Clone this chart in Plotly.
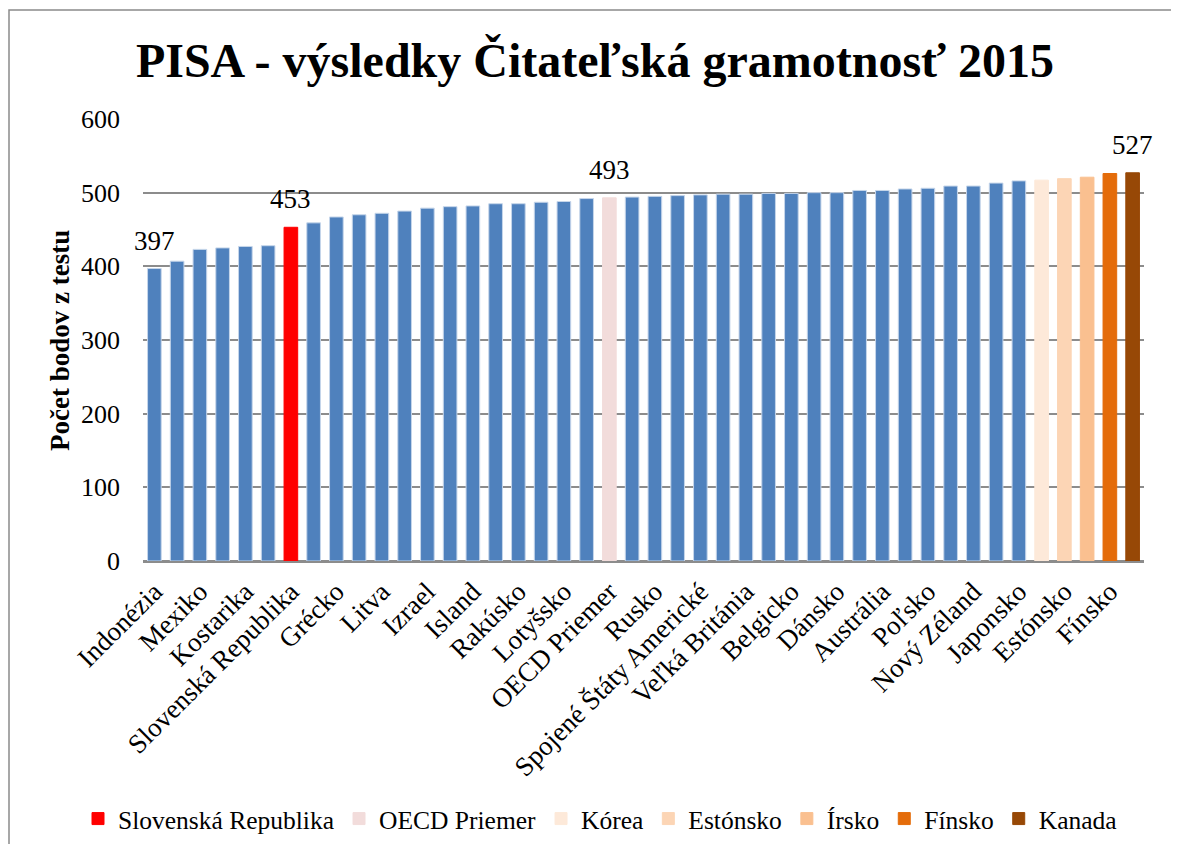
import plotly.graph_objects as go

countries = [
    "Indonézia", "Brazília", "Mexiko", "Kolumbia", "Kostarika", "Turecko",
    "Slovenská Republika", "Čile", "Grécko", "Maďarsko", "Litva", "Argentína",
    "Izrael", "Luxembursko", "Island", "Taliansko", "Rakúsko", "Česko",
    "Lotyšsko", "Švajčiarsko", "OECD Priemer", "Španielsko", "Rusko", "Portugalsko",
    "Spojené Štáty Americké", "Švédsko", "Veľká Británia", "Francúzsko", "Belgicko",
    "Holandsko", "Dánsko", "Slovinsko", "Austrália", "Nemecko", "Poľsko", "Macao",
    "Nový Zéland", "Nórsko", "Japonsko", "Kórea", "Estónsko", "Írsko", "Fínsko", "Kanada",
]
scores = [
    397, 407, 423, 425, 427, 428, 453, 459, 467, 470, 472, 475,
    479, 481, 482, 485, 485, 487, 488, 492, 493, 494, 495, 496,
    497, 498, 498, 499, 499, 500, 500, 503, 503, 505, 506, 509,
    509, 513, 516, 517, 519, 521, 526, 527,
]
highlighted = ["Slovenská Republika", "OECD Priemer", "Kórea", "Estónsko", "Írsko", "Fínsko", "Kanada"]
highlight_colors = ["#FF0000", "#F2DCDB", "#FDE9D9", "#FCD5B5", "#FAC090", "#E46C0A", "#974806"]
labelled = ["Indonézia", "Slovenská Republika", "OECD Priemer", "Kanada"]
tick_labels = countries[::2]

SERIF = "Liberation Serif"
OFF = 8  # browser body margin
W, H = 1179 - 2 * OFF, 852 - 2 * OFF
# plot area in page coordinates: x 143..1144, y 119..561
L = 143 - OFF
T = 119 - OFF
R = W - (1144 - OFF)
B = H - (561 - OFF)

fig = go.Figure()

blue_y = [None if c in highlighted else v for c, v in zip(countries, scores)]
fig.add_trace(go.Bar(
    x=countries, y=blue_y,
    marker=dict(color="#4F81BD", line=dict(color="#c6d6ea", width=1)),
    showlegend=False, name="Krajiny",
))
for name, col in zip(highlighted, highlight_colors):
    v = scores[countries.index(name)]
    fig.add_trace(go.Bar(
        x=[name], y=[v], name=name,
        marker=dict(color=col, line=dict(color=col, width=1)),
    ))

pw, ph = W - L - R, H - T - B

def px(x):
    return (x - OFF - L) / pw

def py(y):
    return (H - B - (y - OFF)) / ph

annotations = [dict(text="<b>Počet bodov z testu</b>", textangle=-90,
                    xref="paper", yref="paper", x=px(60), y=py(341),
                    xanchor="center", yanchor="middle", showarrow=False,
                    font=dict(family=SERIF, size=27, color="black"))]
for name in labelled:
    v = scores[countries.index(name)]
    annotations.append(dict(text=str(v), x=name, y=v, xref="x", yref="y",
                            xanchor="center", yanchor="bottom", yshift=11,
                            showarrow=False,
                            font=dict(family=SERIF, size=27, color="black")))

fig.update_layout(
    width=W, height=H,
    margin=dict(l=L, r=R, t=T, b=B, autoexpand=False),
    barmode="overlay", bargap=0.4,
    plot_bgcolor="white", paper_bgcolor="white",
    title=dict(text="<b>PISA - výsledky Čitateľská gramotnosť 2015</b>",
               x=(595 - OFF) / W, xref="container", xanchor="center",
               y=1 - (60 - OFF) / H, yref="container", yanchor="middle",
               font=dict(family=SERIF, size=48, color="black")),
    font=dict(family=SERIF, size=26, color="black"),
    xaxis=dict(categoryorder="array", categoryarray=countries,
               tickmode="array", tickvals=tick_labels, ticktext=tick_labels,
               tickangle=-45, tickfont=dict(family=SERIF, size=27, color="black"),
               showgrid=False, showline=True, linecolor="#8c8c8c", linewidth=2,
               range=[-0.5, len(countries) - 0.5], ticks="", ticklabelstandoff=2),
    yaxis=dict(range=[0, 600], tickvals=[0, 100, 200, 300, 400, 500, 600],
               showgrid=True, gridcolor="#8c8c8c", gridwidth=2,
               zeroline=True, zerolinecolor="#8c8c8c", zerolinewidth=2,
               tickfont=dict(family=SERIF, size=26, color="black"),
               ticks="", ticklabelstandoff=22),
    legend=dict(orientation="h", x=px(78), xanchor="left", xref="paper",
                y=py(819), yref="paper", yanchor="middle",
                bgcolor="rgba(0,0,0,0)",
                font=dict(family=SERIF, size=25.5, color="black"),
                itemwidth=30, traceorder="normal"),
    showlegend=True,
    annotations=annotations,
    shapes=[dict(type="rect", xref="paper", yref="paper",
                 x0=px(9), y0=py(900), x1=px(1250), y1=py(10),
                 line=dict(color="#8a8a8a", width=1.5), layer="below")],
)

fig.write_html("out.html")
